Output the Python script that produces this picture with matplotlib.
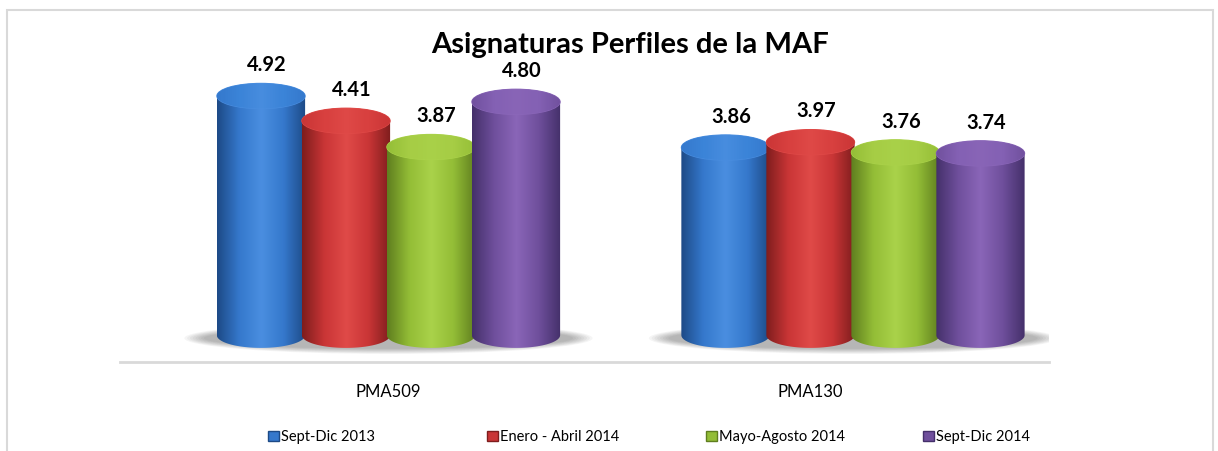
import matplotlib.pyplot as plt
import numpy as np
from matplotlib.patches import Ellipse, PathPatch, Rectangle
from matplotlib.path import Path
from matplotlib.colors import LinearSegmentedColormap

plt.rcParams['font.family'] = ['Lato', 'DejaVu Sans']

# data
categories = ['PMA509', 'PMA130']
series = ['Sept-Dic 2013', 'Enero - Abril 2014', 'Mayo-Agosto 2014', 'Sept-Dic 2014']
sept_dic_2013 = [4.92, 3.86]
enero_abril_2014 = [4.41, 3.97]
mayo_agosto_2014 = [3.87, 3.76]
sept_dic_2014 = [4.80, 3.74]
values = [sept_dic_2013, enero_abril_2014, mayo_agosto_2014, sept_dic_2014]

# dark edge, body, highlight, cap
palette = [
    ('#1d4a86', '#3578cc', '#4a8ee0', '#3b84d8'),
    ('#7e1d1d', '#c93536', '#e04a48', '#d8403f'),
    ('#5f7e1f', '#93bd36', '#aad24a', '#a6cd45'),
    ('#44306a', '#6f4f9c', '#8a66b8', '#8461b4'),
]

W, H = 1218, 451
fig = plt.figure(figsize=(W / 100, H / 100), dpi=100)
ax = fig.add_axes([120 / W, (H - 362) / H, 929 / W, 302 / H])

x = np.arange(len(categories))
pitch = 0.183
width = 0.19
shift = 0.078
cap_h = 0.52  # vertical size of the cap ellipse in data units


def cylinder(ax, xc, v, colors, z):
    dark, body, light, cap = colors
    x0, x1 = xc - width / 2, xc + width / 2
    t = np.linspace(np.pi, 2 * np.pi, 60)
    bx = xc + width / 2 * np.cos(t)
    by = cap_h / 2 * np.sin(t)
    verts = [(x0, v), (x0, 0)] + list(zip(bx, by)) + [(x1, 0), (x1, v), (x0, v)]
    path = Path(verts)
    patch = PathPatch(path, facecolor='none', edgecolor='none', zorder=z)
    ax.add_patch(patch)
    cmap = LinearSegmentedColormap.from_list('b', [dark, body, light, body, dark])
    grad = np.linspace(0, 1, 256).reshape(1, -1)
    im = ax.imshow(grad, extent=[x0, x1, -cap_h, v], aspect='auto', cmap=cmap,
                   zorder=z, interpolation='bicubic')
    im.set_clip_path(patch)
    # top cap
    ell = Ellipse((xc, v), width, cap_h, facecolor=cap, edgecolor=light,
                  linewidth=0.8, zorder=z + 0.1)
    ax.add_patch(ell)
    capmap = LinearSegmentedColormap.from_list('c', [body, cap, light, cap, body])
    im2 = ax.imshow(grad, extent=[x0, x1, v - cap_h / 2, v + cap_h / 2], aspect='auto',
                    cmap=capmap, zorder=z + 0.2, interpolation='bicubic', alpha=0.9)
    im2.set_clip_path(ell)


# soft floor shadows
for i in range(len(categories)):
    left = x[i] + shift - 1.5 * pitch - width / 2
    right = x[i] + shift + 1.5 * pitch + width / 2
    cx = (left + right) / 2
    for k in range(8):
        ax.add_patch(Ellipse((cx, -0.06), (right - left) + 0.14 - k * 0.012,
                             cap_h * 1.25 - k * 0.03, facecolor='#000000',
                             alpha=0.04, edgecolor='none', zorder=1))

for j, vals in enumerate(values):
    for i, v in enumerate(vals):
        xc = x[i] + shift + (j - 1.5) * pitch
        cylinder(ax, xc, v, palette[j], 2 + j)
        ax.annotate(f'{v:.2f}', (xc + 0.012, v), xytext=(0, 15), textcoords='offset points',
                    ha='center', va='bottom', fontsize=14.5, fontweight='bold', color='black',
                    zorder=10)

ax.set_xlim(-0.5, 1.5)
ax.set_ylim(-0.55, 5.66)
ax.set_xticks(x + np.array([0.078, -0.015]))
ax.set_xticklabels(categories, fontsize=12)
ax.tick_params(axis='x', length=0, pad=16)
ax.set_yticks([])
for s in ['top', 'right', 'left']:
    ax.spines[s].set_visible(False)
ax.spines['bottom'].set_color('#d9d9d9')
ax.spines['bottom'].set_linewidth(2)
ax.patch.set_visible(False)

fig.text(630 / W, 1 - 45 / H, 'Asignaturas Perfiles de la MAF', ha='center', va='center',
         fontsize=21, fontweight='bold')

# outer frame
fig.patches.append(Rectangle((7 / W, -0.1), 1206 / W, 1.1 - 10 / H, transform=fig.transFigure,
                             fill=False, edgecolor='#d9d9d9', linewidth=1.5))

# legend, equally spaced entries
leg_x = [268, 487, 706, 923]
for j, name in enumerate(series):
    h = Rectangle((0, 0), 1, 1, facecolor=palette[j][1], edgecolor=palette[j][0])
    fig.legend([h], [name], loc='center left', bbox_to_anchor=(leg_x[j] / W, 1 - 437 / H),
               frameon=False, fontsize=10.5, handlelength=0.75, handleheight=0.75,
               handletextpad=0.15, borderpad=0, borderaxespad=0)

fig.savefig('out.png', dpi=100)
